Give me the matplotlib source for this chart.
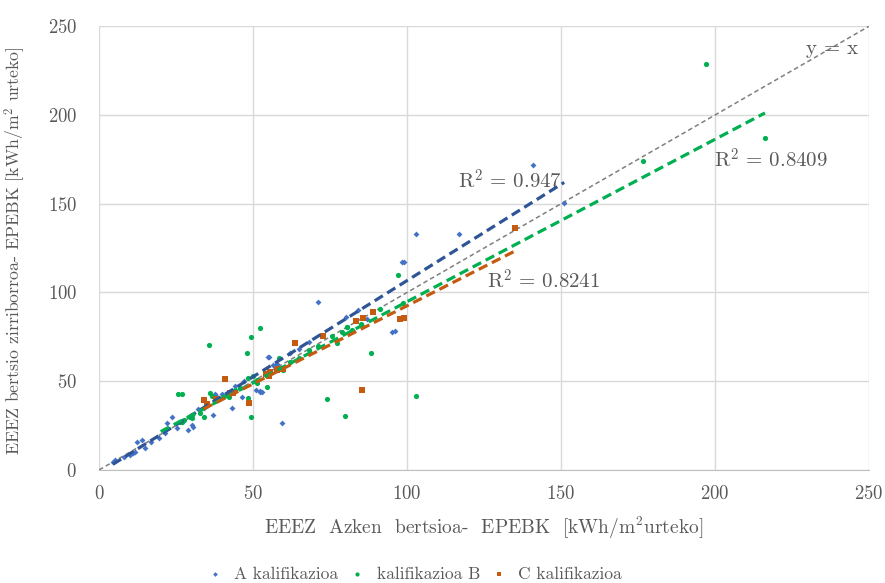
import matplotlib
matplotlib.use("Agg")
import matplotlib.pyplot as plt
import numpy as np

# ---------------- data ----------------
a_x = [141, 103, 117, 99, 151, 71, 96, 59.4, 98.3, 95, 87, 55.2, 52.3, 46.3, 43, 51, 52.3, 52.8,
       54.9, 36.9, 30.4, 37.7, 38.2, 32.2, 56.5, 57.7, 23.6, 22, 12.2, 13.9, 11, 11.7, 10,
       5.2, 4.5, 29, 30.1, 15, 19.3, 21.4, 25.2, 8, 17, 27, 34, 40, 44, 47, 62, 65, 68, 80, 84]
a_y = [172, 133, 133, 117, 150.5, 94.5, 78, 26.4, 117, 77.7, 85, 63.5, 44, 41, 34.8, 45, 44.5, 43.8,
       63.5, 30.9, 24.3, 42.7, 41.2, 34.3, 59, 59.5, 30, 26.2, 15.9, 16.9, 9.6, 10.3, 8.4,
       5.6, 4.7, 22.5, 25.3, 12.2, 17.8, 20.6, 23.4, 7, 16, 27, 35, 43, 47, 50, 66, 68, 72, 86, 90]

b_x = [197, 216.2, 176.6, 102.9, 97.2, 88.2, 79.9, 73.9, 35.8, 52.3, 49.4, 47.9, 54.6, 49.4,
       25.7, 27.0, 48.2, 48.5, 49.9, 36, 36.6, 33.9, 32.8, 29.5, 30.1, 26.8, 40.2, 41.4, 42.3,
       45.8, 51.2, 51.2, 58.5, 59.8, 68, 75.5, 78.8, 80.6, 82, 77.2, 80.4, 91.2, 98.8, 26.3,
       27.4, 30.1, 38, 44, 62, 65, 71, 85]
b_y = [228.7, 187, 174.2, 41.6, 110, 65.6, 30.3, 39.7, 70.2, 80.2, 74.9, 65.9, 46.5, 29.6,
       42.5, 42.9, 40.3, 52, 52.8, 43.4, 41.6, 30, 32.2, 30, 29, 27.1, 40.8, 42.1, 41.2,
       45.9, 50.6, 48.7, 62.8, 56.2, 67.8, 75.3, 77.7, 80.5, 78.7, 71.5, 80.5, 90.8, 94, 27.1,
       28.1, 30.9, 40, 45, 61, 63, 70, 82]

c_x = [135.1, 85.3, 97.7, 99.1, 83.4, 85.6, 89, 63.6, 72.6, 59.8, 58.2, 55.5, 54.6, 40.9,
       33.9, 48.7, 54.2, 55.3, 57.7, 42.5, 43.6, 35, 38]
c_y = [136.5, 44.9, 85.2, 85.8, 83.9, 85.8, 88.9, 71.7, 75.4, 56.7, 57.1, 55.2, 54.3, 51,
       39.3, 37.8, 54.3, 52.8, 56.2, 43.4, 43.4, 37, 40]

series_names = ["A kalifikazioa", "kalifikazioa B", "C kalifikazioa"]

# trend lines (slope, intercept, x start, x end)
trend_slope = [1.084, 0.915, 0.88]
trend_icpt = [-1.7, 3.3, 4.5]
trend_x0 = [4.5, 20.0, 33.9]
trend_x1 = [151.0, 216.2, 135.1]
r2_labels = ["R$^2$ = 0.947", "R$^2$ = 0.8409", "R$^2$ = 0.8241"]
r2_pos = [(116.5, 163), (199.5, 175), (126.0, 106.5)]

ticks = [0, 50, 100, 150, 200, 250]

# ---------------- style ----------------
plt.rcParams['font.family'] = ['cmr10', 'DejaVu Serif']
plt.rcParams['mathtext.fontset'] = 'cm'
plt.rcParams['axes.formatter.use_mathtext'] = True
txt = '#595959'

fig = plt.figure(figsize=(8.85, 5.83), dpi=100)
ax = fig.add_axes([0.112, 0.194, 0.870, 0.761])

colors = ['#4472C4', '#00B050', '#C55A11']
trend_colors = ['#2F5597', '#00B050', '#C55A11']
markers = ['D', 'o', 's']
msizes = [9, 14, 16]

data = [(a_x, a_y), (b_x, b_y), (c_x, c_y)]
handles = []
for (xs, ys), c, m, s, name in zip(data, colors, markers, msizes, series_names):
    h = ax.scatter(xs, ys, s=s, marker=m, color=c, linewidths=0, zorder=3, label=name)
    handles.append(h)

# y = x
xx = np.array([0, 250])
ax.plot(xx, xx, color='#7F7F7F', lw=1.1, dashes=(3, 2), zorder=2)
ax.text(229.5, 237, 'y = x', color=txt, fontsize=15, va='center', ha='left')

for i in range(3):
    xs = np.array([trend_x0[i], trend_x1[i]])
    ax.plot(xs, trend_slope[i] * xs + trend_icpt[i], color=trend_colors[i], lw=2.3,
            dashes=(3, 1.6), zorder=4)
    ax.text(r2_pos[i][0], r2_pos[i][1], r2_labels[i], color=txt,
            fontsize=15, va='center', ha='left')

ax.set_xlim(0, 250)
ax.set_ylim(0, 250)
ax.set_xticks(ticks)
ax.set_yticks(ticks)
ax.grid(True, color='#D9D9D9', lw=1)
ax.set_axisbelow(True)
for side in ['top', 'right', 'left']:
    ax.spines[side].set_visible(False)
ax.spines['bottom'].set_color('#BFBFBF')
ax.tick_params(length=0, labelsize=13.5, labelcolor=txt, pad=11)
ax.tick_params(axis='y', pad=16)

ax.set_xlabel('EEEZ  Azken  bertsioa-  EPEBK  [kWh/m$^2$urteko]', fontsize=14, color=txt, labelpad=8)
ax.set_ylabel('EEEZ bertsio zirriborroa- EPEBK [kWh/m$^2$ urteko]', fontsize=12.8, color=txt)
ax.yaxis.set_label_coords(-0.092, 0.495)

fig.legend(handles=handles, labels=series_names, loc='center', bbox_to_anchor=(0.468, 0.015),
           ncol=3, frameon=False, fontsize=12.5, labelcolor=txt, markerscale=0.8,
           handlelength=1.0, handletextpad=0.6, columnspacing=0.6)

fig.savefig('out.png', dpi=100)
